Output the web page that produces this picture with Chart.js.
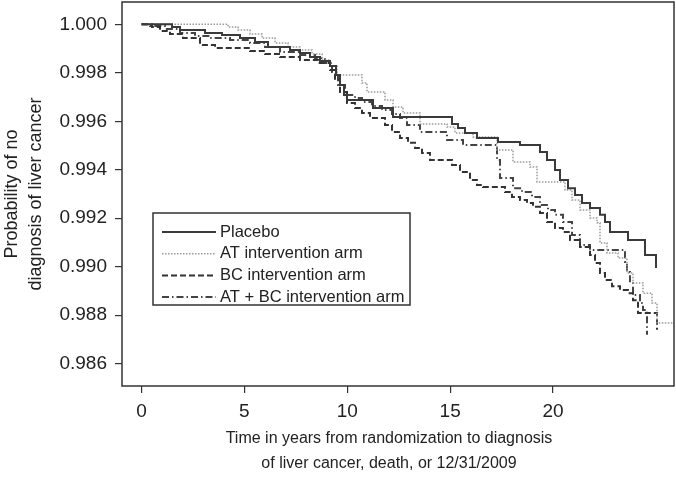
<!DOCTYPE html>
<html>
<head>
<meta charset="utf-8">
<script src="https://cdn.jsdelivr.net/npm/chart.js@4.4.1/dist/chart.umd.min.js"></script>
<style>
    html, body { margin: 0; padding: 0; background: #fff; }
</style>
</head>
<body>
<canvas id="km-chart" width="676" height="478"></canvas>
<script>
const armLabels = ['Placebo', 'AT intervention arm', 'BC intervention arm', 'AT + BC intervention arm'];

// Kaplan-Meier steps: years and probability after each drop
const placeboYears = [0, 1.482, 1.871, 3.086, 3.913, 4.787, 5.516, 6.148, 7.217, 7.703, 8.189, 8.676, 9.162, 9.453, 9.648, 9.842, 9.988, 11.252, 12.224, 15.091, 15.383, 15.723, 16.306, 17.327, 18.396, 19.368, 19.708, 20.097, 20.340, 20.729, 21.069, 21.409, 21.798, 22.284, 22.527, 22.770, 23.645, 24.471, 25.006];
const placeboSurv = [1.0, 0.99989, 0.99976, 0.99964, 0.99956, 0.99943, 0.99927, 0.99906, 0.99894, 0.99882, 0.99865, 0.99849, 0.99828, 0.99791, 0.99750, 0.99708, 0.99688, 0.99655, 0.99618, 0.99589, 0.99572, 0.99552, 0.99531, 0.99515, 0.99502, 0.99473, 0.99440, 0.99399, 0.99358, 0.99324, 0.99296, 0.99263, 0.99242, 0.99214, 0.99185, 0.99143, 0.99110, 0.99048, 0.98995];

const atYears = [0, 4.204, 4.690, 5.273, 5.857, 6.488, 7.120, 7.703, 8.287, 8.773, 9.162, 9.502, 10.717, 10.960, 11.835, 12.224, 12.710, 13.536, 14.848, 15.237, 16.112, 17.278, 18.056, 18.882, 19.222, 20.583, 20.923, 21.312, 21.798, 22.138, 22.284, 22.624, 23.159, 23.596, 23.888, 24.374, 24.812, 25.055, 25.881];
const atSurv = [1.0, 0.99989, 0.99976, 0.99960, 0.99943, 0.99923, 0.99906, 0.99894, 0.99878, 0.99853, 0.99828, 0.99791, 0.99758, 0.99721, 0.99688, 0.99659, 0.99634, 0.99589, 0.99576, 0.99552, 0.99535, 0.99482, 0.99432, 0.99411, 0.99350, 0.99316, 0.99275, 0.99234, 0.99201, 0.99181, 0.99098, 0.99057, 0.99036, 0.98974, 0.98933, 0.98891, 0.98850, 0.98768, 0.98768];

const bcYears = [0, 0.510, 0.899, 1.385, 2.017, 2.843, 3.572, 5.273, 6.002, 6.731, 7.703, 8.578, 9.162, 9.405, 9.648, 9.988, 10.377, 10.717, 11.106, 11.835, 12.175, 12.564, 12.953, 13.293, 13.633, 14.022, 15.091, 15.480, 15.966, 16.306, 16.598, 17.667, 18.007, 18.396, 18.736, 19.028, 19.368, 19.708, 20.097, 20.486, 20.826, 21.312, 21.798, 22.041, 22.284, 22.527, 22.867, 23.256, 23.645, 23.888, 24.131, 25.055];
const bcSurv = [1.0, 0.99989, 0.99972, 0.99960, 0.99943, 0.99915, 0.99902, 0.99890, 0.99878, 0.99865, 0.99853, 0.99840, 0.99812, 0.99770, 0.99721, 0.99675, 0.99655, 0.99634, 0.99614, 0.99585, 0.99556, 0.99531, 0.99511, 0.99490, 0.99469, 0.99440, 0.99420, 0.99391, 0.99358, 0.99337, 0.99329, 0.99308, 0.99288, 0.99275, 0.99263, 0.99247, 0.99222, 0.99185, 0.99160, 0.99143, 0.99110, 0.99081, 0.99048, 0.99015, 0.98974, 0.98945, 0.98919, 0.98904, 0.98891, 0.98862, 0.98809, 0.98740];

const atbcYears = [0, 0.413, 1.142, 1.871, 2.600, 3.329, 4.301, 5.273, 6.002, 6.731, 7.703, 8.433, 8.919, 9.259, 9.551, 9.891, 10.377, 10.717, 11.203, 11.689, 12.175, 12.564, 12.904, 13.536, 14.848, 15.626, 17.278, 17.424, 18.056, 18.493, 18.979, 19.368, 19.757, 20.097, 20.486, 20.923, 21.312, 21.798, 23.499, 23.596, 23.742, 23.888, 24.228, 24.374, 24.569];
const atbcSurv = [1.0, 0.99993, 0.99981, 0.99964, 0.99952, 0.99943, 0.99935, 0.99923, 0.99906, 0.99886, 0.99873, 0.99861, 0.99840, 0.99803, 0.99750, 0.99708, 0.99696, 0.99680, 0.99663, 0.99647, 0.99630, 0.99614, 0.99585, 0.99556, 0.99523, 0.99502, 0.99440, 0.99366, 0.99324, 0.99308, 0.99288, 0.99255, 0.99234, 0.99214, 0.99185, 0.99131, 0.99090, 0.99069, 0.99020, 0.98978, 0.98933, 0.98883, 0.98850, 0.98821, 0.98719];

const xTicks = [0, 5, 10, 15, 20];
const yTicks = [0.986, 0.988, 0.990, 0.992, 0.994, 0.996, 0.998, 1.000];
const xTitle = ['Time in years from randomization to diagnosis', 'of liver cancer, death, or 12/31/2009'];
const yTitle = ['Probability of no', 'diagnosis of liver cancer'];

const FONT = '"Liberation Sans", Arial, Helvetica, sans-serif';
const toPoints = (xs, ys) => xs.map((x, i) => ({ x, y: ys[i] }));

// box round the plot area + x title (sits a bit left of the plot centre in the original)
const frame = {
    id: 'frame',
    afterDraw(chart) {
        const { ctx, chartArea: a } = chart;
        ctx.save();
        ctx.strokeStyle = '#333';
        ctx.lineWidth = 1.5;
        ctx.strokeRect(a.left, a.top, a.right - a.left, a.bottom - a.top);
        ctx.fillStyle = '#222';
        ctx.font = '16px ' + FONT;
        ctx.textAlign = 'center';
        ctx.textBaseline = 'middle';
        xTitle.forEach((line, i) => ctx.fillText(line, a.left + 267, a.bottom + 53 + i * 25));
        ctx.restore();
    },
};

// legend box inside the plot, lines drawn with each dataset's own dash
const boxLegend = {
    id: 'boxLegend',
    afterDatasetsDraw(chart) {
        const { ctx, chartArea: a } = chart;
        const x0 = a.left + 31, y0 = a.top + 211;
        ctx.save();
        ctx.fillStyle = '#fff';
        ctx.fillRect(x0, y0, 257, 92);
        ctx.strokeStyle = '#333';
        ctx.lineWidth = 1.5;
        ctx.strokeRect(x0, y0, 257, 92);
        chart.data.datasets.forEach((ds, i) => {
            const y = y0 + 19 + i * 21.7;
            ctx.beginPath();
            ctx.setLineDash(ds.borderDash || []);
            ctx.strokeStyle = ds.borderColor;
            ctx.lineWidth = ds.borderWidth;
            ctx.moveTo(x0 + 9, y);
            ctx.lineTo(x0 + 63, y);
            ctx.stroke();
            ctx.setLineDash([]);
            ctx.fillStyle = '#222';
            ctx.font = '16.5px ' + FONT;
            ctx.textBaseline = 'middle';
            ctx.fillText(ds.label, x0 + 67, y);
        });
        ctx.restore();
    },
};

new Chart(document.getElementById('km-chart').getContext('2d'), {
    type: 'line',
    data: {
        datasets: [
            { label: armLabels[0], data: toPoints(placeboYears, placeboSurv), borderColor: '#3a3a3a', borderWidth: 2 },
            { label: armLabels[1], data: toPoints(atYears, atSurv), borderColor: '#9a9a9a', borderWidth: 1.5, borderDash: [1.5, 1.5] },
            { label: armLabels[2], data: toPoints(bcYears, bcSurv), borderColor: '#333', borderWidth: 2, borderDash: [6, 3] },
            { label: armLabels[3], data: toPoints(atbcYears, atbcSurv), borderColor: '#444', borderWidth: 2, borderDash: [7, 3, 1.5, 3] },
        ],
    },
    options: {
        responsive: false,
        animation: false,
        layout: { padding: { top: 2, right: 2, left: 0, bottom: 0 } },
        elements: { line: { stepped: true, tension: 0, fill: false }, point: { radius: 0 } },
        scales: {
            x: {
                type: 'linear',
                min: -0.948,
                max: 25.881,
                afterFit: (scale) => { scale.height = 92; scale.paddingLeft = 0; scale.paddingRight = 0; },
                afterBuildTicks: (scale) => { scale.ticks = xTicks.map(v => ({ value: v })); },
                border: { display: false },
                grid: { drawOnChartArea: false, drawTicks: true, tickLength: 7, color: '#333', lineWidth: 1.2 },
                ticks: { color: '#222', padding: 7, maxRotation: 0, font: { family: FONT, size: 19 } },
            },
            y: {
                type: 'linear',
                min: 0.98508,
                max: 1.00092,
                afterFit: (scale) => { scale.width = 122; scale.paddingTop = 0; scale.paddingBottom = 0; },
                afterBuildTicks: (scale) => { scale.ticks = yTicks.map(v => ({ value: v })); },
                border: { display: false },
                grid: { drawOnChartArea: false, drawTicks: true, tickLength: 7, color: '#333', lineWidth: 1.2 },
                ticks: { color: '#222', padding: 8, font: { family: FONT, size: 19 }, callback: (v) => v.toFixed(3) },
                title: {
                    display: true,
                    text: yTitle,
                    color: '#222',
                    padding: { top: 0, bottom: 0 },
                    font: { family: FONT, size: 18, lineHeight: 1.33 },
                },
            },
        },
        plugins: {
            legend: { display: false },
            tooltip: { enabled: false },
        },
    },
    plugins: [frame, boxLegend],
});
</script>
</body>
</html>
